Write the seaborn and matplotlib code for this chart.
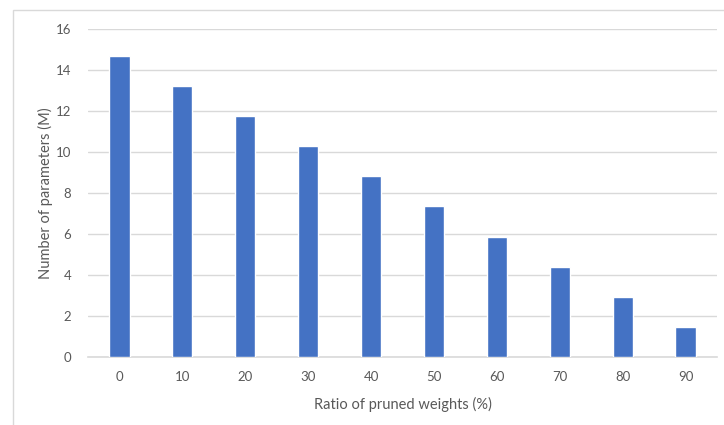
import pandas as pd
import seaborn as sns
import matplotlib.pyplot as plt
from matplotlib.patches import Rectangle

# Chart data
ratios = ['0', '10', '20', '30', '40', '50', '60', '70', '80', '90']
params = [14.7, 13.2, 11.75, 10.3, 8.85, 7.35, 5.85, 4.4, 2.95, 1.45]

df = pd.DataFrame({'Ratio': ratios, 'Params': params})

sns.set_style('white')
plt.rcParams['font.family'] = ['Lato', 'DejaVu Sans']

fig = plt.figure(figsize=(7.24, 4.25), dpi=100)
ax = fig.add_axes([88 / 724, 1 - 357 / 425, 629 / 724, 328 / 425])

# Light outer chart border (Excel style)
fig.patches.append(Rectangle((13 / 724, -0.05), 1.0, 1 - 10 / 425 + 0.05,
                             transform=fig.transFigure, fill=False,
                             edgecolor='#d9d9d9', linewidth=1.0))

sns.barplot(data=df, x='Ratio', y='Params', color='#4472C4', width=0.32,
            saturation=1, ax=ax, zorder=3)

ax.set_ylim(0, 16)
ax.set_yticks(range(0, 17, 2))
ax.yaxis.grid(True, color='#d9d9d9', linewidth=1.0, zorder=0)
for s in ['top', 'right', 'left']:
    ax.spines[s].set_visible(False)
ax.spines['bottom'].set_color('#d9d9d9')
ax.spines['bottom'].set_linewidth(1.2)

ax.tick_params(axis='both', length=0, labelsize=9.5, labelcolor='#595959')
ax.tick_params(axis='y', pad=12)
ax.tick_params(axis='x', pad=10)

ax.set_xlabel('Ratio of pruned weights (%)', fontsize=10.5, color='#595959', labelpad=10)
ax.set_ylabel('Number of parameters (M)', fontsize=10.5, color='#595959', labelpad=2)

fig.savefig('out.png', dpi=100)
